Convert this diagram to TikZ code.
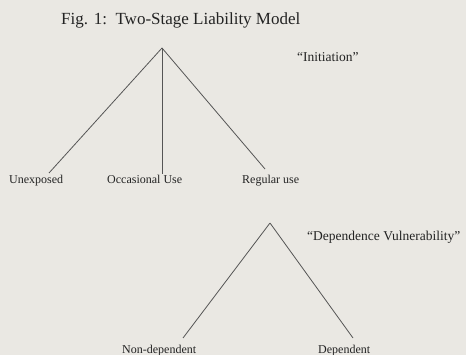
\documentclass[tikz,border=0pt]{standalone}
\usepackage{fontspec}
\setmainfont{Liberation Serif}
\usepackage{xcolor}
\usepackage{tikz}
\usetikzlibrary{positioning}
\definecolor{paper}{RGB}{234,232,227}
\definecolor{ink}{RGB}{35,35,35}
\definecolor{leg}{RGB}{85,85,85}

\begin{document}
\begin{tikzpicture}[x=1pt, y=-1pt, label/.style={anchor=base west, inner sep=0pt, text=ink, font=\fontsize{12}{12}\selectfont}, stage/.style={anchor=base west, inner sep=0pt, text=ink, font=\fontsize{13.5}{13.5}\selectfont}, branch/.style={draw=leg, line width=0.8pt}]
            \fill[paper] (0,0) rectangle (466,355);
            \useasboundingbox (0,0) rectangle (466,355);

            \node[anchor=base west, inner sep=0pt, text=ink, font=\fontsize{17}{17}\selectfont] (title) at (61,24.5) {Fig. 1:\ \ Two-Stage Liability Model};

            \coordinate (top) at (162,48);
            \coordinate (unexpEnd) at (49,173);
            \coordinate (occEnd) at (162,174);
            \coordinate (regEnd) at (265,169);
            \node[stage] (initiation) at (297,61.5) {``Initiation''};
            \node[label] (unexp) at (9,184) {Unexposed};
            \node[label] (occ) at (107,184) {Occasional Use};
            \node[label] (reg) at (242,184) {Regular use};

            \draw[branch] (top) -- (unexpEnd);
            \draw[branch] (top) -- (occEnd);
            \draw[branch] (top) -- (regEnd);

            \coordinate (apex) at (270,223);
            \coordinate (nondepEnd) at (183,338);
            \coordinate (depEnd) at (353,338);
            \node[stage] (vuln) at (307,241) {``Dependence Vulnerability''};
            \node[label] (nondep) at (122,353) {Non-dependent};
            \node[label] (dep) at (318,353) {Dependent};

            \draw[branch] (apex) -- (nondepEnd);
            \draw[branch] (apex) -- (depEnd);
        \end{tikzpicture}
\end{document}
